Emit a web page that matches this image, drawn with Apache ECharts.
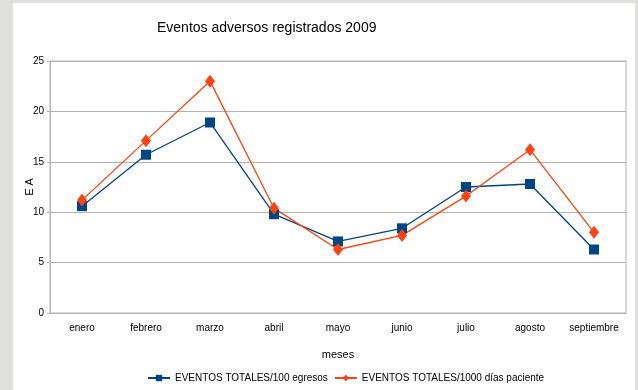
<!DOCTYPE html>
<html>
<head>
<meta charset="utf-8">
<script src="https://cdn.jsdelivr.net/npm/echarts@6/dist/echarts.min.js"></script>
<style>
  html, body { margin: 0; padding: 0; background: #e0e0de; }
  #chart { width: 638px; height: 390px; }
</style>
</head>
<body>
<div id="chart"></div>
<script>
// datos
var meses = ['enero', 'febrero', 'marzo', 'abril', 'mayo', 'junio', 'julio', 'agosto', 'septiembre'];
var egresos = [10.6, 15.7, 18.9, 9.8, 7.1, 8.4, 12.5, 12.8, 6.3];
var diasPaciente = [11.2, 17.1, 23.0, 10.4, 6.3, 7.7, 11.6, 16.2, 8.0];
var nombres = ['EVENTOS TOTALES/100 egresos', 'EVENTOS TOTALES/1000 días paciente'];

var fuente = "'Liberation Sans', Arial, sans-serif";

var myChart = echarts.init(document.getElementById('chart'));
var option = {
    backgroundColor: '#e0e0de',
    animation: false,
    textStyle: { fontFamily: fuente },
    graphic: [{
        type: 'rect',
        z: -10,
        shape: { x: 13, y: 3, width: 622, height: 387 },
        style: { fill: '#ffffff' }
    }],
    title: {
        text: 'Eventos adversos registrados 2009',
        left: 152,
        top: 16,
        textStyle: { fontFamily: fuente, fontSize: 14, fontWeight: 'normal', color: '#000' }
    },
    legend: {
        data: nombres,
        left: 142,
        top: 368,
        itemWidth: 22,
        itemHeight: 8,
        itemGap: 6,
        textStyle: { fontFamily: fuente, fontSize: 10, color: '#000' }
    },
    grid: {
        left: 50,
        top: 61,
        right: 12,
        bottom: 77,
        show: true,
        borderColor: '#b3b3b3',
        borderWidth: 1
    },
    xAxis: {
        type: 'category',
        data: meses,
        boundaryGap: true,
        name: 'meses',
        nameLocation: 'middle',
        nameGap: 36,
        nameMoveOverlap: false,
        nameTextStyle: { fontFamily: fuente, fontSize: 11, color: '#000' },
        axisLine: { lineStyle: { color: '#b3b3b3' } },
        axisTick: { length: 4, lineStyle: { color: '#b3b3b3' } },
        axisLabel: { interval: 0, fontFamily: fuente, fontSize: 10, color: '#000', margin: 10 }
    },
    yAxis: {
        type: 'value',
        min: 0,
        max: 25,
        interval: 5,
        name: 'E A',
        nameLocation: 'middle',
        nameGap: 15,
        nameMoveOverlap: false,
        nameTextStyle: { fontFamily: fuente, fontSize: 11, color: '#000' },
        axisLine: { show: true, lineStyle: { color: '#b3b3b3' } },
        axisTick: { show: true, length: 3, lineStyle: { color: '#b3b3b3' } },
        axisLabel: { fontFamily: fuente, fontSize: 10, color: '#000', margin: 6 },
        splitLine: { lineStyle: { color: '#b3b3b3' } }
    },
    series: [
        {
            name: nombres[0],
            type: 'line',
            data: egresos,
            symbol: 'rect',
            symbolSize: 10,
            color: '#004586',
            lineStyle: { width: 1.3, color: '#004586' },
            itemStyle: { color: '#004586' }
        },
        {
            name: nombres[1],
            type: 'line',
            data: diasPaciente,
            symbol: 'diamond',
            symbolSize: [10, 13],
            color: '#ff420e',
            lineStyle: { width: 1.3, color: '#ff420e' },
            itemStyle: { color: '#ff420e' }
        }
    ]
};
myChart.setOption(option);
</script>
</body>
</html>
